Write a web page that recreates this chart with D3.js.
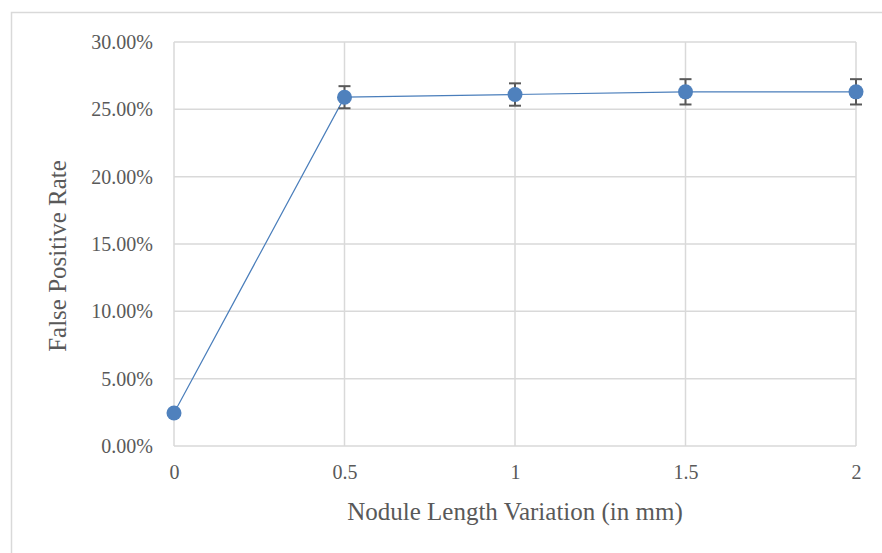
<!DOCTYPE html>
<html lang="en">
<head>
    <meta charset="UTF-8">
    <title>False Positive Rate vs Nodule Length Variation</title>
    <script src="https://cdn.jsdelivr.net/npm/d3@7"></script>
    <style>
        body { margin: 0; background: #fff; }
        svg { display: block; }
        text { font-family: "Liberation Serif", "DejaVu Serif", serif; fill: #595959; }
        .grid line { stroke: #d9d9d9; stroke-width: 1.5px; }
    </style>
</head>
<body>
<svg width="882" height="553"></svg>
<script>
    // data
    const lengthVariation = [0, 0.5, 1, 1.5, 2];
    const falsePositiveRate = [0.0245, 0.259, 0.261, 0.263, 0.263];
    const errorAmount = [0, 0.0082, 0.0083, 0.0094, 0.0094];
    const xTicks = [0, 0.5, 1, 1.5, 2];
    const yTicks = [0, 0.05, 0.10, 0.15, 0.20, 0.25, 0.30];

    const svg = d3.select("svg");
    const margin = { left: 174, right: 26, top: 42, bottom: 107 };
    const width = 882, height = 553;

    // chart frame
    svg.append("rect")
        .attr("x", 11.5).attr("y", 12.5)
        .attr("width", 900).attr("height", 600)
        .attr("fill", "none").attr("stroke", "#d9d9d9").attr("stroke-width", 1.5);

    const x = d3.scaleLinear().domain([0, 2]).range([margin.left, width - margin.right]);
    const y = d3.scaleLinear().domain([0, 0.30]).range([height - margin.bottom, margin.top]);

    // gridlines
    const grid = svg.append("g").attr("class", "grid");
    grid.selectAll("line.h").data(yTicks).enter().append("line")
        .attr("x1", x(0)).attr("x2", x(2))
        .attr("y1", d => y(d)).attr("y2", d => y(d));
    grid.selectAll("line.v").data(xTicks).enter().append("line")
        .attr("y1", y(0)).attr("y2", y(0.30))
        .attr("x1", d => x(d)).attr("x2", d => x(d));

    // axes labels
    const yAxis = svg.append("g")
        .attr("transform", `translate(${x(0)},0)`)
        .call(d3.axisLeft(y).tickValues(yTicks).tickFormat(d3.format(".2%")).tickSize(0).tickPadding(21));
    yAxis.select(".domain").remove();
    yAxis.attr("font-size", null).attr("font-family", null);
    yAxis.selectAll("text").style("font-size", "20px").style("fill", "#595959");

    const xAxis = svg.append("g")
        .attr("transform", `translate(0,${y(0)})`)
        .call(d3.axisBottom(x).tickValues(xTicks).tickFormat(d3.format("")).tickSize(0).tickPadding(19));
    xAxis.select(".domain").remove();
    xAxis.attr("font-size", null).attr("font-family", null);
    xAxis.selectAll("text").style("font-size", "20px").style("fill", "#595959");

    // axis titles
    svg.append("text")
        .attr("x", 515).attr("y", 520)
        .attr("text-anchor", "middle")
        .style("font-size", "25px")
        .text("Nodule Length Variation (in mm)");

    svg.append("text")
        .attr("transform", `translate(66,${(y(0) + y(0.30)) / 2 + 12}) rotate(-90)`)
        .attr("text-anchor", "middle")
        .style("font-size", "25px")
        .text("False Positive Rate");

    const points = lengthVariation.map((v, i) => ({ v, r: falsePositiveRate[i], e: errorAmount[i] }));

    // line
    svg.append("path")
        .datum(points)
        .attr("fill", "none")
        .attr("stroke", "#4a7ebb")
        .attr("stroke-width", 1.2)
        .attr("d", d3.line().x(d => x(d.v)).y(d => y(d.r)));

    // error bars
    const eb = svg.append("g").attr("stroke", "#595959").attr("stroke-width", 2);
    points.filter(d => d.e > 0).forEach(d => {
        const cx = x(d.v);
        eb.append("line").attr("x1", cx).attr("x2", cx).attr("y1", y(d.r + d.e)).attr("y2", y(d.r - d.e));
        eb.append("line").attr("x1", cx - 6).attr("x2", cx + 6).attr("y1", y(d.r + d.e)).attr("y2", y(d.r + d.e));
        eb.append("line").attr("x1", cx - 6).attr("x2", cx + 6).attr("y1", y(d.r - d.e)).attr("y2", y(d.r - d.e));
    });

    // markers
    svg.selectAll("circle.pt")
        .data(points)
        .enter()
        .append("circle")
        .attr("class", "pt")
        .attr("cx", d => x(d.v))
        .attr("cy", d => y(d.r))
        .attr("r", 7.5)
        .attr("fill", "#4f81bd");
</script>
</body>
</html>
